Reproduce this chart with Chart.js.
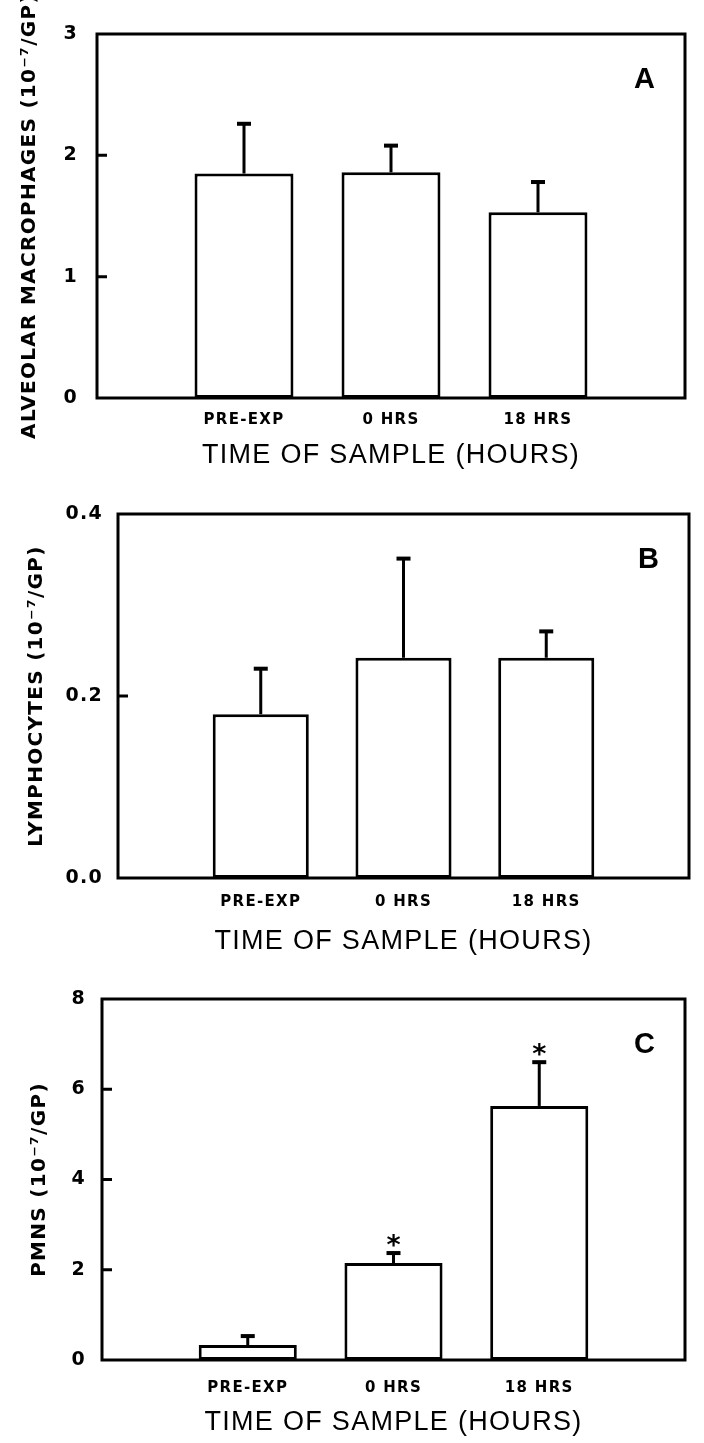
<!DOCTYPE html>
<html><head><meta charset="utf-8">
<script src="https://cdn.jsdelivr.net/npm/chart.js@4.4.1/dist/chart.umd.min.js"></script>
<style>
html,body{margin:0;padding:0;background:#fff;width:704px;height:1443px;overflow:hidden}
.panel{position:absolute;left:0;width:704px}
canvas{display:block}
</style></head><body>
<div class="panel" style="top:0"><canvas id="cA" width="704" height="480"></canvas></div>
<div class="panel" style="top:480px"><canvas id="cB" width="704" height="480"></canvas></div>
<div class="panel" style="top:960px"><canvas id="cC" width="704" height="483"></canvas></div>
<script>
// ---- data ----
const categories = ['PRE-EXP', '0 HRS', '18 HRS'];
const macrophageMeans = [1.85, 1.86, 1.53];
const macrophageSEM = [0.41, 0.22, 0.25];
const lymphocyteMeans = [0.180, 0.242, 0.242];
const lymphocyteSEM = [0.050, 0.109, 0.029];
const pmnMeans = [0.33, 2.15, 5.63];
const pmnSEM = [0.20, 0.22, 0.97];
const pmnSignificant = [false, true, true];
const macrophageTicks = [0, 1, 2, 3];
const macrophageTickLabels = ['0', '1', '2', '3'];
const lymphocyteTicks = [0, 0.2, 0.4];
const lymphocyteTickLabels = ['0.0', '0.2', '0.4'];
const pmnTicks = [0, 2, 4, 6, 8];
const pmnTickLabels = ['0', '2', '4', '6', '8'];
const xTitle = 'TIME OF SAMPLE (HOURS)';

const BOLD = '"DejaVu Sans", "Liberation Sans", sans-serif';
const PLAIN = '"Liberation Sans", Arial, sans-serif';
const SPACING = '1.3px';

const panelPlugin = {
  id: 'panel',
  beforeDraw(chart) { chart.ctx.letterSpacing = SPACING; },
  afterDatasetsDraw(chart, args, opts) {
    const ctx = chart.ctx;
    const {left, right, top, bottom} = chart.chartArea;
    const y = chart.scales.y;
    const ds = chart.data.datasets[0];
    const meta = chart.getDatasetMeta(0);
    ctx.save();
    ctx.strokeStyle = '#000'; ctx.fillStyle = '#000'; ctx.lineWidth = 3;
    meta.data.forEach((bar, i) => {
      const v = ds.data[i]; const sem = opts.sem[i];
      if (v == null || sem == null) return;
      const yTop = y.getPixelForValue(v + sem);
      ctx.beginPath(); ctx.moveTo(bar.x, bar.y); ctx.lineTo(bar.x, yTop); ctx.stroke();
      ctx.fillRect(bar.x - 7, yTop - 2, 14, 4);
      if (opts.sig && opts.sig[i]) {
        ctx.font = 'bold 27px ' + BOLD;
        ctx.letterSpacing = '0px';
        ctx.textAlign = 'center'; ctx.textBaseline = 'alphabetic';
        ctx.fillText('*', bar.x, yTop + 1);
        ctx.letterSpacing = SPACING;
      }
    });
    // inner tick marks
    ctx.beginPath();
    y.ticks.forEach(t => {
      const py = y.getPixelForValue(t.value);
      if (py > top + 3 && py < bottom - 3) { ctx.moveTo(left, py); ctx.lineTo(left + 10, py); }
    });
    ctx.stroke();
    // frame
    ctx.strokeRect(left, top, right - left, bottom - top);
    // panel letter
    ctx.letterSpacing = '0px';
    ctx.font = 'bold 29px ' + PLAIN;
    ctx.textAlign = 'right'; ctx.textBaseline = 'middle';
    ctx.fillText(opts.letter, right - 30, top + 46);
    ctx.restore();
    chart.ctx.letterSpacing = SPACING;
  }
};

function pad(arr) { return [null, ...arr, null]; }

function makeChart(id, p) {
  const H = p.H, a = p.area;
  return new Chart(document.getElementById(id), {
    type: 'bar',
    data: {
      labels: ['', ...categories, ''],
      datasets: [{
        data: pad(p.values),
        backgroundColor: '#fff', borderColor: '#000', borderWidth: 3,
        borderSkipped: false, barPercentage: 0.673, categoryPercentage: 1
      }]
    },
    plugins: [panelPlugin],
    options: {
      responsive: false, animation: false, devicePixelRatio: 1,
      layout: { padding: { left: 0, top: a.t, right: 704 - a.r, bottom: 0 } },
      plugins: {
        legend: { display: false }, tooltip: { enabled: false },
        panel: { sem: pad(p.sem), sig: p.sig ? pad(p.sig) : null, letter: p.letter }
      },
      scales: {
        x: {
          type: 'category', offset: false,
          grid: { display: false, drawTicks: false }, border: { display: false },
          ticks: { autoSkip: false, maxRotation: 0, padding: p.xTickOff - 9, color: '#000',
                   font: { family: BOLD, weight: 'bold', size: 15 } },
          title: { display: true, text: xTitle, color: '#000',
                   font: { family: PLAIN, size: 27 },
                   padding: { top: 0, bottom: H - (a.b + p.xTitleOff) - 16.2 } },
          afterFit: s => { s.height = H - a.b; }
        },
        y: {
          min: p.ticks[0], max: p.ticks[p.ticks.length - 1],
          afterBuildTicks: s => { s.ticks = p.ticks.map(v => ({ value: v })); },
          grid: { display: false, drawTicks: false }, border: { display: false },
          ticks: { padding: p.yTickGap - 1, color: '#000',
                   font: { family: BOLD, weight: 'bold', size: 19 },
                   callback: (v) => p.tickLabels[p.ticks.indexOf(v)] },
          title: { display: true, text: p.yTitle, color: '#000',
                   font: { family: BOLD, weight: 'bold', size: 20 },
                   padding: { top: p.yTitleX - 12, bottom: 0 } },
          afterFit: s => { s.width = a.l; }
        }
      }
    }
  });
}

makeChart('cA', { H: 480, area: { l: 97, t: 34, r: 685, b: 398 }, values: macrophageMeans, sem: macrophageSEM,
  ticks: macrophageTicks, tickLabels: macrophageTickLabels, yTitle: 'ALVEOLAR MACROPHAGES (10\u207B\u2077/GP)',
  letter: 'A', yTitleX: 30, yTickGap: 20, xTickOff: 22, xTitleOff: 58 });
makeChart('cB', { H: 480, area: { l: 118, t: 34, r: 703, b: 398 }, values: lymphocyteMeans, sem: lymphocyteSEM,
  ticks: lymphocyteTicks, tickLabels: lymphocyteTickLabels, yTitle: 'LYMPHOCYTES (10\u207B\u2077/GP)',
  letter: 'B', yTitleX: 37, yTickGap: 16, xTickOff: 24, xTitleOff: 64 });
makeChart('cC', { H: 483, area: { l: 102, t: 39, r: 689, b: 400 }, values: pmnMeans, sem: pmnSEM, sig: pmnSignificant,
  ticks: pmnTicks, tickLabels: pmnTickLabels, yTitle: 'PMNS (10\u207B\u2077/GP)',
  letter: 'C', yTitleX: 40, yTickGap: 17, xTickOff: 28, xTitleOff: 63 });
</script>
</body></html>
